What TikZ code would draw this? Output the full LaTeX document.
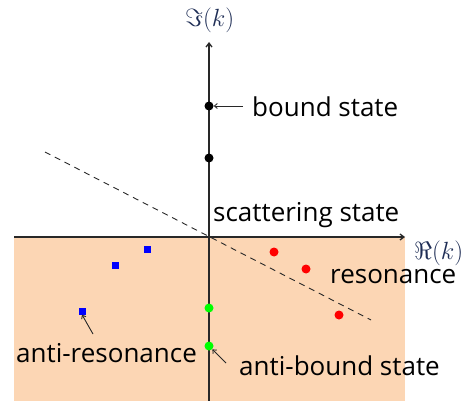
\documentclass[tikz,border=0pt]{standalone}
\usetikzlibrary{arrows.meta}
\usepackage{amssymb}
\usepackage{fontspec}
\setmainfont{Open Sans}
\definecolor{peach}{RGB}{252,214,180}
\definecolor{mathblue}{RGB}{30,45,85}
\definecolor{axisgray}{RGB}{40,40,40}
\begin{document}
\begin{tikzpicture}[x=1pt,y=-1pt,
  lbl/.style={font=\fontsize{26}{30}\selectfont, inner sep=0pt, anchor=base west},
  mlbl/.style={font=\fontsize{25}{30}\selectfont, text=mathblue, inner sep=0pt, anchor=base west},
  bdot/.style={circle, fill=black, inner sep=0pt, minimum size=9pt},
  rdot/.style={circle, fill=red, inner sep=0pt, minimum size=9pt},
  gdot/.style={circle, fill=green, inner sep=0pt, minimum size=9pt},
  bsq/.style={rectangle, fill=blue, inner sep=0pt, minimum size=7pt},
  axis/.style={draw=axisgray, line width=1.3pt, -{Straight Barb[length=4pt,width=6pt]}},
  pointer/.style={draw=axisgray, line width=0.9pt, -{Straight Barb[length=3pt,width=5pt]}}]
\useasboundingbox (0,0) rectangle (463,401);
\fill[peach] (14,237) rectangle (405,401);
\coordinate (o) at (209,237);
\coordinate (xl) at (14,237);
\coordinate (xr) at (405,237);
\coordinate (yb) at (209,401);
\coordinate (yt) at (209,42);
\draw[axis] (xl) -- (xr);
\draw[axis] (yb) -- (yt);
\coordinate (d1) at (45,152);
\coordinate (d2) at (371,320);
\draw[dashed, draw=axisgray, line width=0.9pt, dash pattern=on 6pt off 5pt] (d1) -- (d2);
\node[mlbl] (im) at (185,27) {$\Im(k)$};
\node[mlbl] (re) at (414,259) {$\Re(k)$};
\node[bdot] (b1) at (209,106) {};
\node[bdot] (b2) at (209,158) {};
\node[lbl] (bs) at (252,117) {bound state};
\coordinate (bsa) at (243,106);
\draw[pointer] (bsa) -- (b1.east);
\node[lbl] (ss) at (213,221) {scattering state};
\node[rdot] (r1) at (274,252) {};
\node[rdot] (r2) at (306,269) {};
\node[rdot] (r3) at (339,315) {};
\node[lbl] (res) at (330,283) {resonance};
\node[bsq] (s1) at (147,249) {};
\node[bsq] (s2) at (115,265) {};
\node[bsq] (s3) at (82,311) {};
\node[lbl] (ar) at (16,362) {anti-resonance};
\coordinate (ara) at (93,334);
\draw[pointer] (ara) -- (s3.south);
\node[gdot] (g1) at (209,308) {};
\node[gdot] (g2) at (209,346) {};
\node[lbl] (abs) at (239,375) {anti-bound state};
\coordinate (absa) at (226,363);
\draw[pointer] (absa) -- (g2.south east);
\end{tikzpicture}
\end{document}
